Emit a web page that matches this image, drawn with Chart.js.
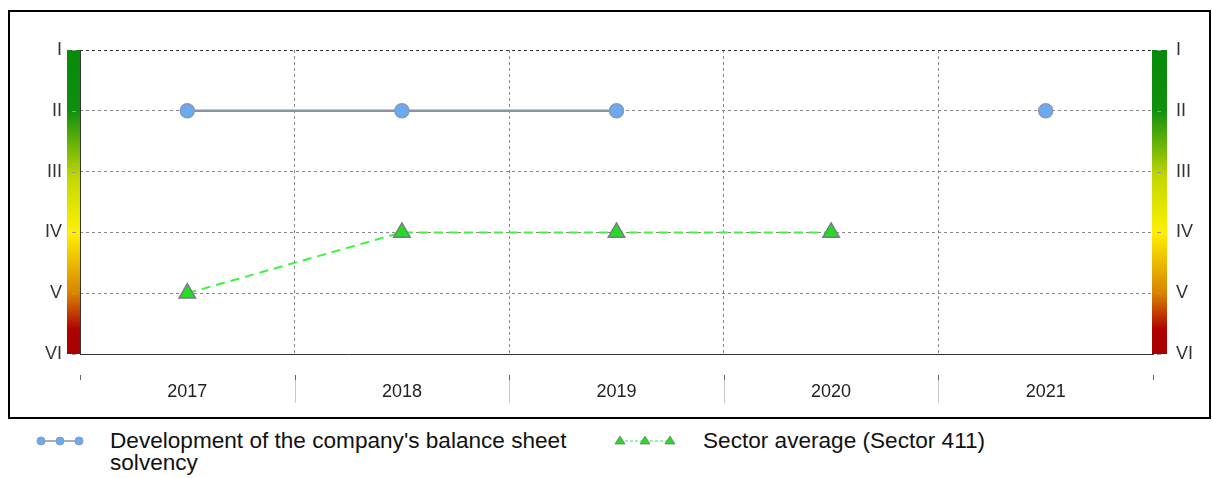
<!DOCTYPE html>
<html>
<head>
<meta charset="utf-8">
<script src="https://cdn.jsdelivr.net/npm/chart.js@4.4.1/dist/chart.umd.min.js"></script>
<style>
	body { margin: 0; background: #fff; font-family: "Liberation Sans", Arial, sans-serif; }
	#box { position: absolute; left: 8px; top: 10px; width: 1203px; height: 409px; border: 2px solid #000; box-sizing: border-box; }
	#box canvas { position: absolute; left: 0; top: 0; }
	.leg { position: absolute; font-size: 22.6px; line-height: 22px; color: #111; }
</style>
</head>
<body>
<div id="box"><canvas id="chart" width="1199" height="405"></canvas></div>

<svg style="position:absolute;left:34px;top:433px" width="52" height="16">
	<line x1="4" y1="8" x2="48" y2="8" stroke="#8a93a6" stroke-width="1.5"/>
	<circle cx="7" cy="8" r="4" fill="#6aaaf0" stroke="#8899bb" stroke-width="1"/>
	<circle cx="26" cy="8" r="4" fill="#6aaaf0" stroke="#8899bb" stroke-width="1"/>
	<circle cx="45" cy="8" r="4" fill="#6aaaf0" stroke="#8899bb" stroke-width="1"/>
</svg>
<div class="leg" style="left:110px;top:430px;width:490px">Development of the company's balance sheet solvency</div>

<svg style="position:absolute;left:612px;top:432px" width="66" height="16">
	<line x1="8" y1="9" x2="58" y2="9" stroke="#33ee33" stroke-width="1" stroke-dasharray="3,2"/>
	<polygon points="8,4 13,12 3,12" fill="#22dd22" stroke="#777" stroke-width="0.8"/>
	<polygon points="33,4 38,12 28,12" fill="#22dd22" stroke="#777" stroke-width="0.8"/>
	<polygon points="58,4 63,12 53,12" fill="#22dd22" stroke="#777" stroke-width="0.8"/>
</svg>
<div class="leg" style="left:703px;top:430px">Sector average (Sector 411)</div>

<script>
const years = ['2017', '2018', '2019', '2020', '2021'];
const ratingLabels = ['I', 'II', 'III', 'IV', 'V', 'VI'];
const companyRating = [2, 2, 2, null, 2];
const sectorRating = [5, 4, 4, 4, null];

const fontFamily = '"Liberation Sans", Arial, sans-serif';

// colour bars on both sides of the plot
const ratingBars = {
	id: 'ratingBars',
	afterDraw(chart) {
		const ctx = chart.ctx;
		const area = chart.chartArea;
		const yScale = chart.scales.y;
		const grad = ctx.createLinearGradient(0, area.top, 0, area.bottom);
		grad.addColorStop(0, '#078a07');
		grad.addColorStop(0.2, '#0f900f');
		grad.addColorStop(0.42, '#c4d800');
		grad.addColorStop(0.6, '#fff000');
		grad.addColorStop(0.8, '#d88400');
		grad.addColorStop(0.92, '#b00000');
		grad.addColorStop(1, '#a80000');
		const w = 14;
		ctx.save();
		ctx.fillStyle = grad;
		ctx.fillRect(area.left - w + 1, area.top, w, area.bottom - area.top);
		ctx.fillRect(area.right - 1, area.top, w + 1, area.bottom - area.top);
		ctx.strokeStyle = '#999';
		ctx.lineWidth = 1;
		yScale.ticks.forEach(t => {
			const y = Math.round(yScale.getPixelForValue(t.value)) + 0.5;
			ctx.beginPath();
			ctx.moveTo(area.left - w / 2 - 1, y);
			ctx.lineTo(area.left - w / 2 + 3, y);
			ctx.moveTo(area.right + w / 2 - 3, y);
			ctx.lineTo(area.right + w / 2 + 1, y);
			ctx.stroke();
		});
		ctx.strokeStyle = '#333';
		ctx.beginPath();
		ctx.moveTo(area.left + 0.5, area.top);
		ctx.lineTo(area.left + 0.5, area.bottom);
		ctx.stroke();
		ctx.restore();
	},
};

// small ticks and separators between the year labels
const yearSeparators = {
	id: 'yearSeparators',
	afterDraw(chart) {
		const ctx = chart.ctx;
		const xs = chart.scales.x;
		const bottom = chart.chartArea.bottom;
		ctx.save();
		ctx.lineWidth = 1;
		for (let i = 0; i <= years.length; i++) {
			const x = Math.round(xs.getPixelForValue(i - 0.5)) + 0.5;
			ctx.strokeStyle = '#666';
			ctx.beginPath();
			ctx.moveTo(x, bottom + 21);
			ctx.lineTo(x, bottom + 26);
			ctx.stroke();
			if (i > 0 && i < years.length) {
				ctx.strokeStyle = '#c8c8c8';
				ctx.beginPath();
				ctx.moveTo(x, bottom + 26);
				ctx.lineTo(x, bottom + 49);
				ctx.stroke();
			}
		}
		ctx.restore();
	},
};

const romanTicks = (padding) => ({
	stepSize: 1,
	padding,
	color: '#333',
	font: { family: fontFamily, size: 18 },
	callback: v => ratingLabels[v - 1],
});

new Chart(document.getElementById('chart'), {
	type: 'line',
	data: {
		labels: years,
		datasets: [{
			label: "Development of the company's balance sheet solvency",
			data: companyRating,
			borderColor: '#8a93a6',
			borderWidth: 2.5,
			pointStyle: 'circle',
			pointRadius: 7,
			pointBackgroundColor: '#6aaaf0',
			pointBorderColor: '#8899bb',
			pointBorderWidth: 1.5,
			spanGaps: false,
			order: 1,
		}, {
			label: 'Sector average (Sector 411)',
			data: sectorRating,
			borderColor: '#3cf53c',
			borderWidth: 2,
			borderDash: [9, 6],
			pointStyle: 'triangle',
			pointRadius: 9.5,
			pointBackgroundColor: '#22dd22',
			pointBorderColor: '#7a7a8a',
			pointBorderWidth: 1.5,
			spanGaps: false,
			order: 2,
		}],
	},
	options: {
		responsive: false,
		animation: false,
		layout: { padding: { top: 38, left: 0, right: 0, bottom: 0 } },
		plugins: {
			legend: { display: false },
			tooltip: { enabled: false },
		},
		scales: {
			x: {
				offset: true,
				grid: {
					offset: true,
					drawTicks: false,
					color: ctx => (ctx.index === 0 || ctx.index === undefined) ? '#444' : '#888',
				},
				border: { display: true, color: '#333', dash: [3, 3] },
				ticks: {
					padding: 27,
					color: '#222',
					font: { family: fontFamily, size: 18 },
				},
				afterFit: s => { s.height = 63; },
			},
			y: {
				position: 'left',
				min: 1,
				max: 6,
				reverse: true,
				grid: {
					drawTicks: false,
					color: ctx => (ctx.tick && (ctx.tick.value === 1 || ctx.tick.value === 6)) ? '#333' : '#888',
				},
				border: { display: false, dash: [3, 3] },
				ticks: romanTicks(18),
				afterFit: s => { s.width = 70; },
			},
			y2: {
				position: 'right',
				min: 1,
				max: 6,
				reverse: true,
				grid: { drawOnChartArea: false, drawTicks: false },
				border: { display: false },
				ticks: romanTicks(23),
				afterFit: s => { s.width = 56; },
			},
		},
	},
	plugins: [ratingBars, yearSeparators],
});
</script>
</body>
</html>
